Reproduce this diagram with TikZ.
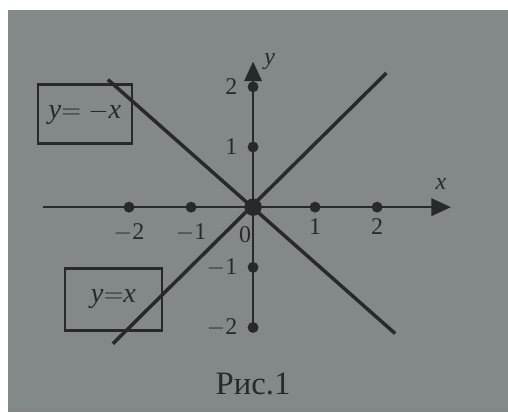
\documentclass[tikz,border=0pt]{standalone}
\usepackage{fontspec}
\setmainfont{Liberation Serif}
\usepackage{tikz}
\usetikzlibrary{arrows.meta,positioning}
\definecolor{papel}{RGB}{131,137,137}
\definecolor{tinta}{RGB}{38,42,42}
\begin{document}
\begin{tikzpicture}[
  x=1cm, y=0.97cm,
  every node/.style={font=\fontsize{11}{13}\selectfont, text=tinta},
  eje/.style={draw=tinta, line width=1.1pt},
  recta/.style={draw=tinta, line width=1.6pt},
  marca/.style={circle, fill=tinta, inner sep=0pt, minimum size=5pt},
  caja/.style={rectangle, draw=tinta, line width=1.2pt,
    minimum width=1.52cm, minimum height=0.95cm,
    font=\fontsize{13}{15}\selectfont\itshape},
  >={Triangle[length=9pt, width=8pt]}
]
  %% ── Fondo ────────────────────────────────────────────────
  \useasboundingbox (-4.08cm,-3.31cm) rectangle (4.11cm,3.34cm);
  \fill[white] (-4.08cm,-3.31cm) rectangle (4.11cm,3.34cm);
  \fill[papel] (-3.95cm,-3.31cm) rectangle (4.11cm,3.18cm);

  %% ── Ejes ─────────────────────────────────────────────────
  \coordinate (xi) at (-3.39,0);
  \coordinate (xf) at (3.19,0);
  \coordinate (yi) at (0,-2.03);
  \coordinate (yf) at (0,2.42);
  \draw[eje, ->] (xi) -- (xf);
  \draw[eje, ->] (yi) -- (yf);
  \node[font=\fontsize{11}{13}\selectfont\itshape] (xlab) at (3.03,0.38) {x};
  \node[font=\fontsize{11}{13}\selectfont\itshape] (ylab) at (0.27,2.42) {y};

  %% ── Marcas ───────────────────────────────────────────────
  \foreach \k in {-2,-1,1,2} {
    \node[marca] (mx\k) at (\k,0) {};
    \node[marca] (my\k) at (0,\k) {};
  }
  \node[marca, minimum size=8pt] (O) at (0,0) {};

  \node (tx-2) at (-2,-0.42) {$-$2};
  \node (tx-1) at (-1,-0.42) {$-$1};
  \node (tx1)  at (1,-0.32) {1};
  \node (tx2)  at (2,-0.32) {2};
  \node (t0)   at (-0.13,-0.45) {0};
  \node[left=1pt of my2]  (ty2) {2};
  \node[left=1pt of my1]  (ty1) {1};
  \node[left=1pt of my-1] (ty-1) {$-$1};
  \node[left=1pt of my-2] (ty-2) {$-$2};

  %% ── Rectas ───────────────────────────────────────────────
  \coordinate (a1) at (-2.26,-2.27);
  \coordinate (a2) at (2.15,2.23);
  \coordinate (b1) at (-2.34,2.12);
  \coordinate (b2) at (2.29,-2.10);
  \draw[recta] (a1) -- (a2);
  \draw[recta] (b1) -- (b2);

  %% ── Rótulos ──────────────────────────────────────────────
  \node[caja] (menosx) at (-2.71,1.55) {y$=$ $-$x};
  \node[caja, minimum width=1.56cm, minimum height=1cm] (masx) at (-2.25,-1.53) {y$=$x};

  \node[font=\fontsize{15}{17}\selectfont] (pie) at (0,-2.93) {Рис.1};
\end{tikzpicture}
\end{document}
